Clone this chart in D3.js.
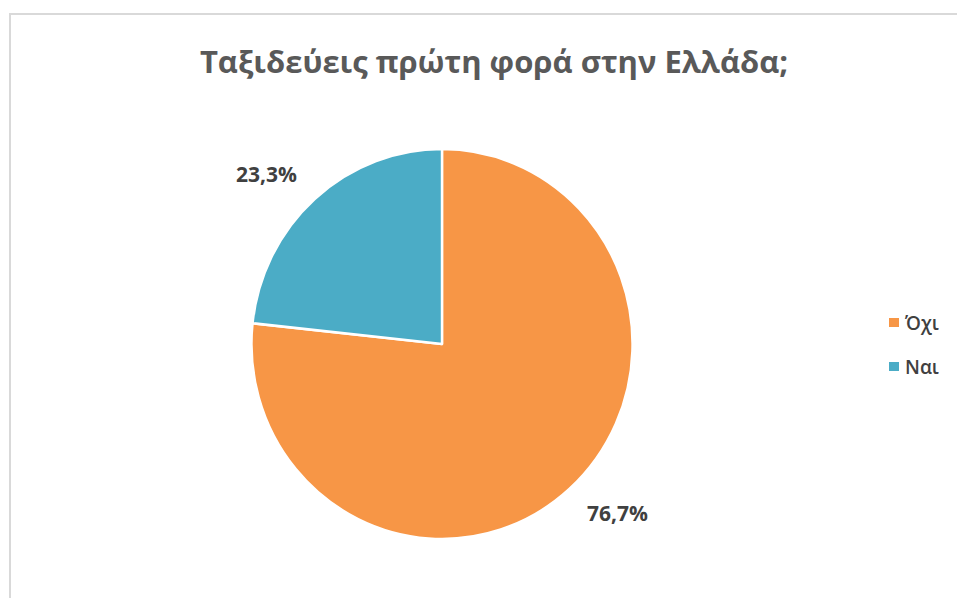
<!DOCTYPE html>
<html>
<head>
<meta charset="utf-8">
<script src="https://cdn.jsdelivr.net/npm/d3@7"></script>
<style>
  body { margin: 0; background: #fff; }
  text { font-family: "Open Sans", "Noto Sans", sans-serif; }
</style>
</head>
<body>
<div id="chart"></div>
<script>
// データ ---------------------------------------------------------------
const categories = ['Όχι', 'Ναι'];
const values = [76.7, 23.3];
const colors = ['#F79646', '#4BACC6'];
const title = 'Ταξιδεύεις πρώτη φορά στην Ελλάδα;';

// SVG領域 --------------------------------------------------------------
const width = 957;
const height = 598;
const svg = d3.select('#chart').append('svg')
  .attr('width', width)
  .attr('height', height);

// 枠線
svg.append('rect')
  .attr('x', 10)
  .attr('y', 14)
  .attr('width', width)
  .attr('height', height)
  .attr('fill', 'none')
  .attr('stroke', '#d9d9d9')
  .attr('stroke-width', 2);

// 表名
svg.append('text')
  .attr('x', 494)
  .attr('y', 73)
  .attr('text-anchor', 'middle')
  .attr('font-size', '31px')
  .attr('font-weight', 'bold')
  .attr('fill', '#595959')
  .text(title);

// パイ -----------------------------------------------------------------
const cx = 442, cy = 344, r = 195;
const data = categories.map((c, i) => ({ name: c, value: values[i], color: colors[i] }));
const pie = d3.pie().sort(null).value(d => d.value);
const arcs = pie(data);
const arc = d3.arc().innerRadius(0).outerRadius(r);
const labelArc = d3.arc().innerRadius(r + 22).outerRadius(r + 22);

const g = svg.append('g').attr('transform', 'translate(' + cx + ',' + cy + ')');
g.append('g')
  .attr('transform', 'scale(0.977,1)')
  .selectAll('path')
  .data(arcs)
  .enter()
  .append('path')
  .attr('d', arc)
  .attr('fill', d => d.data.color)
  .attr('stroke', '#fff')
  .attr('stroke-width', 2.5)
  .attr('stroke-linejoin', 'round');

// ラベル（外側、角を合わせる）
const midAngle = d => (d.startAngle + d.endAngle) / 2;
g.selectAll('text.label')
  .data(arcs)
  .enter()
  .append('text')
  .attr('class', 'label')
  .attr('transform', d => 'translate(' + labelArc.centroid(d) + ')')
  .attr('text-anchor', d => Math.sin(midAngle(d)) < 0 ? 'end' : 'start')
  .attr('dy', d => -Math.cos(midAngle(d)) < 0 ? '-0.05em' : '0.75em')
  .attr('font-size', '21px')
  .attr('font-weight', 'bold')
  .attr('fill', '#404040')
  .text(d => d.data.value.toFixed(1).replace('.', ',') + '%');

// 凡例 -----------------------------------------------------------------
const legend = svg.append('g')
  .selectAll('g')
  .data(data)
  .enter()
  .append('g')
  .attr('transform', (d, i) => 'translate(889,' + (318 + i * 44) + ')');
legend.append('rect')
  .attr('width', 10)
  .attr('height', 9)
  .attr('fill', d => d.color);
legend.append('text')
  .attr('x', 16)
  .attr('y', 5)
  .attr('dy', '0.35em')
  .attr('font-size', '19px')
  .attr('font-weight', 600)
  .attr('fill', '#404040')
  .text(d => d.name);
</script>
</body>
</html>
